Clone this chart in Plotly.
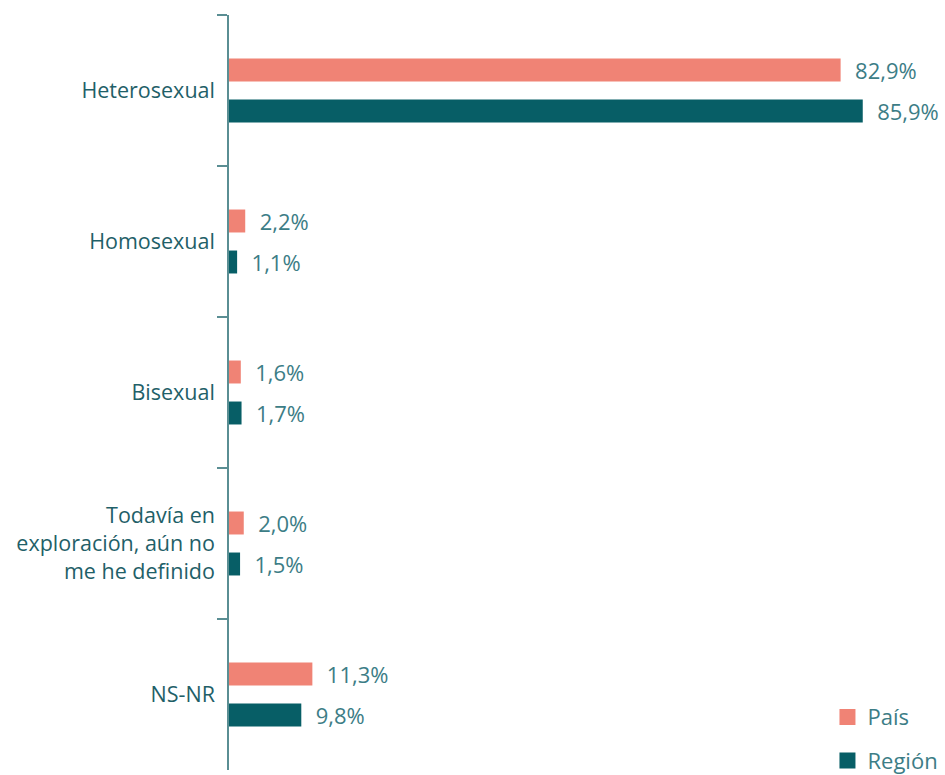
import plotly.graph_objects as go

categories = ["Heterosexual", "Homosexual", "Bisexual",
              "Todavía en<br>exploración, aún no<br>me he definido", "NS-NR"]
pais = [82.9, 2.2, 1.6, 2.0, 11.3]
region = [85.9, 1.1, 1.7, 1.5, 9.8]
series_names = ["País", "Región"]
colors = ["#F08375", "#075E66"]

label_color = "#1F6068"
value_color = "#3C7D86"
font_family = "Open Sans"


def fmt(v):
    return "\u00a0\u00a0" + f"{v:.1f}".replace(".", ",") + "%"


fig = go.Figure()
for name, vals, col in zip(series_names, [pais, region], colors):
    fig.add_trace(go.Bar(
        y=categories, x=vals, orientation="h", name=name,
        marker=dict(color=col, line=dict(width=0)),
        text=[fmt(v) for v in vals], textposition="outside",
        constraintext="none",
        textfont=dict(size=22, color=value_color, family=font_family),
        cliponaxis=False, showlegend=False,
    ))
    fig.add_trace(go.Scatter(
        x=[None], y=[None], mode="markers", name=name, legendgroup=name,
        marker=dict(symbol="square", size=22, color=col),
        showlegend=True,
    ))

fig.update_layout(
    width=945, height=775,
    margin=dict(l=229, r=52, t=15, b=5, autoexpand=False),
    paper_bgcolor="white", plot_bgcolor="white",
    barmode="group", bargap=0.457, bargroupgap=0.44,
    font=dict(family=font_family, size=21, color=label_color),
    showlegend=True,
    legend=dict(x=1.076, y=-0.016, xanchor="right", yanchor="bottom",
                font=dict(size=22, color=value_color),
                itemsizing="trace", tracegroupgap=12,
                bgcolor="rgba(0,0,0,0)"),
    xaxis=dict(range=[0, 90], visible=False, showgrid=False, zeroline=False),
    yaxis=dict(autorange="reversed", showline=True, linecolor="#5A8E93",
               linewidth=1.5, ticks="outside", tickson="boundaries",
               ticklen=10, tickcolor="#5A8E93", tickwidth=1.5,
               showgrid=False, ticklabelstandoff=8,
               tickfont=dict(size=21.5, color=label_color, family=font_family)),
)

fig.write_html("out.html")
